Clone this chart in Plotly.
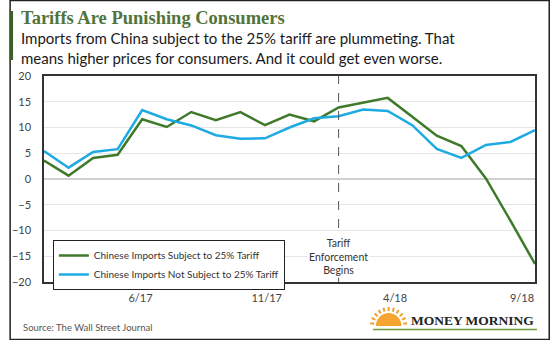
import numpy as np
import plotly.graph_objects as go

# ---- data ----
periods = list(range(21))  # monthly points, 1/17 .. 9/18
subject = [3.6, 0.65, 4.1, 4.7, 11.6, 10.1, 13.0, 11.4, 13.0, 10.45, 12.5, 11.2,
           13.9, 14.8, 15.75, 12.1, 8.4, 6.4, 0.1, -8.1, -16.5]
not_subject = [5.45, 2.2, 5.25, 5.8, 13.4, 11.6, 10.4, 8.5, 7.8, 7.9, 10.0, 11.8,
               12.2, 13.5, 13.2, 10.45, 5.85, 4.1, 6.6, 7.2, 9.5]
tick_pos = [3.93, 9.07, 14.3, 19.47]
tick_text = ["6/17", "11/17", "4/18", "9/18"]
enforcement_idx = 12
names = ["Chinese Imports Subject to 25% Tariff", "Chinese Imports Not Subject to 25% Tariff"]

GREEN = "#3f7a2b"
BLUE = "#1eaae2"
W, H = 550, 340
L, R, T, B = 35, 15, 76, 58
PW, PH = W - L - R, H - T - B


def px(x):
    return (x - L) / PW


def py(y):
    return (H - B - y) / PH


fig = go.Figure()
fig.add_trace(go.Scatter(x=periods, y=subject, mode="lines", name=names[0],
                         line=dict(color=GREEN, width=2.5)))
fig.add_trace(go.Scatter(x=periods, y=not_subject, mode="lines", name=names[1],
                         line=dict(color=BLUE, width=2.5)))

sans = "Lato"
fig.update_layout(
    width=W, height=H, margin=dict(l=L, r=R, t=T, b=B),
    paper_bgcolor="white", plot_bgcolor="white",
    font=dict(family=sans, size=11, color="#333"),
    showlegend=True,
    legend=dict(x=px(44), y=py(240), xanchor="left", yanchor="top",
                bordercolor="#222", borderwidth=1, bgcolor="white",
                font=dict(size=10, color="#333"), tracegroupgap=0,
                itemwidth=30),
    xaxis=dict(range=[0, 20], tickvals=tick_pos, ticktext=tick_text,
               showgrid=False, zeroline=False, showline=True, mirror=True,
               linecolor="#333", linewidth=1.5, ticks="outside", ticklen=5,
               tickcolor="rgba(0,0,0,0)", tickfont=dict(size=11, color="#444")),
    yaxis=dict(range=[-20, 20], dtick=5, showgrid=True, gridcolor="#e6e6e6",
               gridwidth=1, zeroline=True, zerolinecolor="#d0d0d0", zerolinewidth=2,
               showline=True, mirror=True, linecolor="#333", linewidth=1.5,
               ticks="outside", ticklen=9, tickcolor="rgba(0,0,0,0)",
               tickfont=dict(size=11, color="#444")),
)

# enforcement line
fig.add_shape(type="line", x0=enforcement_idx, x1=enforcement_idx, xref="x",
              y0=0, y1=1, yref="paper", line=dict(color="#555", width=1, dash="dash"))
fig.add_annotation(x=enforcement_idx, y=-15, xref="x", yref="y",
                   text="Tariff<br>Enforcement<br>Begins", showarrow=False,
                   font=dict(size=10.5, color="#333"), bgcolor="white",
                   xanchor="center", yanchor="middle")

# outer frame
fig.add_shape(type="rect", xref="paper", yref="paper", x0=px(0.5), x1=px(W - 0.5),
              y0=py(H - 0.5), y1=py(0.5), line=dict(color="#222", width=1.5), layer="below")
# green title bar
fig.add_shape(type="rect", xref="paper", yref="paper", x0=px(0), x1=px(3.5),
              y0=py(60), y1=py(11), line=dict(width=0), fillcolor="#3d5f29")

# titles
fig.add_annotation(x=px(10), y=py(18), xref="paper", yref="paper", xanchor="left",
                   yanchor="middle", showarrow=False,
                   text="<b>Tariffs Are Punishing Consumers</b>",
                   font=dict(family="Liberation Serif", size=18.5, color="#52743a"))
fig.add_annotation(x=px(10), y=py(48), xref="paper", yref="paper", xanchor="left",
                   yanchor="middle", showarrow=False, align="left",
                   text="Imports from China subject to the 25% tariff are plummeting. That<br>"
                        "means higher prices for consumers. And it could get even worse.",
                   font=dict(family=sans, size=15, color="#1a1a1a"))

# source
fig.add_annotation(x=px(12), y=py(327), xref="paper", yref="paper", xanchor="left",
                   yanchor="middle", showarrow=False,
                   text="Source: The Wall Street Journal",
                   font=dict(family=sans, size=9.5, color="#555"))

# logo: sun + text + underline
cx, cy, r = 386, 326, 13
t = np.linspace(0, np.pi, 30)
pts = [(px(cx + r * np.cos(a)), py(cy - r * np.sin(a))) for a in t]
path = "M " + " L ".join(f"{a:.5f},{b:.5f}" for a, b in pts) + " Z"
fig.add_shape(type="path", path=path, xref="paper", yref="paper",
              fillcolor="#f6a531", line=dict(width=0))
for a in np.linspace(0.15, np.pi - 0.15, 11):
    x0, y0 = cx + (r + 2) * np.cos(a), cy - (r + 2) * np.sin(a)
    x1, y1 = cx + (r + 6) * np.cos(a), cy - (r + 6) * np.sin(a)
    fig.add_shape(type="line", xref="paper", yref="paper", x0=px(x0), y0=py(y0),
                  x1=px(x1), y1=py(y1), line=dict(color="#f0a030", width=2))
fig.add_shape(type="line", xref="paper", yref="paper", x0=px(370), x1=px(537),
              y0=py(329.5), y1=py(329.5), line=dict(color="#6c9a3a", width=1.5))
fig.add_annotation(x=px(536), y=py(320), xref="paper", yref="paper", xanchor="right",
                   yanchor="middle", showarrow=False, text="<b>MONEY MORNING</b>",
                   font=dict(family="Liberation Serif", size=13.5, color="#222"))

fig.write_html("out.html")
